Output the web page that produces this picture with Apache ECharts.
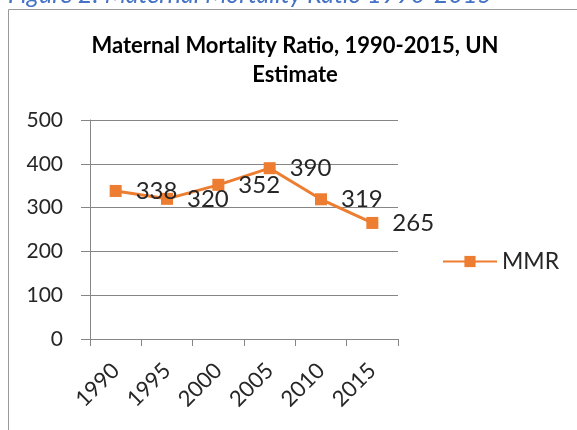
<!DOCTYPE html>
<html>
<head>
<meta charset="utf-8">
<script src="https://cdn.jsdelivr.net/npm/echarts@6/dist/echarts.min.js"></script>
<style>
  html, body { margin: 0; padding: 0; background: #fff; }
  #chart { width: 577px; height: 430px; }
</style>
</head>
<body>
<div id="chart"></div>
<script>
// data
var years = ['1990', '1995', '2000', '2005', '2010', '2015'];
var mmr = [338, 320, 352, 390, 319, 265];
var yTicks = [0, 100, 200, 300, 400, 500];

var chart = echarts.init(document.getElementById('chart'));
var fontName = 'Lato, "Open Sans", sans-serif';
var gridGray = '#868686';

var option = {
  animation: false,
  backgroundColor: '#fff',
  textStyle: { fontFamily: fontName },
  title: {
    text: 'Maternal Mortality Ratio, 1990-2015, UN\nEstimate',
    left: 295,
    top: 31,
    padding: 0,
    textAlign: 'center',
    textStyle: {
      fontFamily: fontName,
      fontSize: 22,
      fontWeight: 'bold',
      color: '#000',
      lineHeight: 29
    }
  },
  legend: {
    data: ['MMR'],
    left: 437,
    top: 245,
    itemWidth: 54,
    itemHeight: 14,
    itemGap: 7,
    textStyle: { fontSize: 23, color: '#262626', fontFamily: fontName }
  },
  grid: { left: 90, right: 179, top: 120, bottom: 91, containLabel: false },
  xAxis: {
    type: 'category',
    data: years,
    boundaryGap: true,
    axisLine: { lineStyle: { color: gridGray } },
    axisTick: { show: true, interval: 0, length: 7, lineStyle: { color: gridGray } },
    axisLabel: { rotate: 45, fontSize: 22, color: '#262626', margin: 28, interval: 0 }
  },
  yAxis: {
    type: 'value',
    min: yTicks[0],
    max: yTicks[yTicks.length - 1],
    interval: 100,
    axisLine: { show: true, lineStyle: { color: gridGray } },
    axisTick: { show: true, length: 9, lineStyle: { color: gridGray } },
    splitLine: { lineStyle: { color: gridGray } },
    axisLabel: { fontSize: 21, color: '#262626', margin: 27 }
  },
  series: [{
    name: 'MMR',
    type: 'line',
    data: mmr,
    symbol: 'rect',
    symbolSize: 12,
    itemStyle: { color: '#ED7D31' },
    lineStyle: { color: '#ED7D31', width: 3 },
    label: {
      show: true,
      position: 'right',
      distance: 14,
      fontSize: 24,
      color: '#262626',
      fontFamily: fontName
    }
  }],
  graphic: [
    {
      type: 'text',
      left: 8,
      top: -18,
      style: {
        text: 'Figure 2: Maternal Mortality Ratio 1990-2015',
        fontSize: 25,
        fontStyle: 'italic',
        fontFamily: fontName,
        fill: '#4472C4'
      }
    },
    {
      type: 'polyline',
      shape: { points: [[8.5, 440], [8.5, 9.5], [600, 9.5]] },
      style: { stroke: '#9a9a9a', lineWidth: 1, fill: null }
    }
  ]
};

chart.setOption(option);
</script>
</body>
</html>
